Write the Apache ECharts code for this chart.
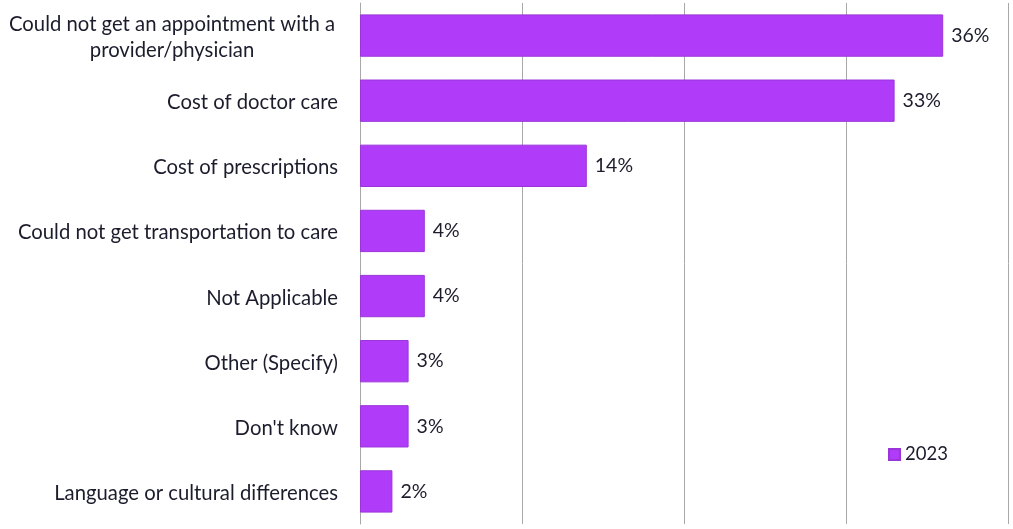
<!DOCTYPE html>
<html>
<head>
<meta charset="utf-8">
<script src="https://cdn.jsdelivr.net/npm/echarts@6/dist/echarts.min.js"></script>
<style>
  html, body { margin: 0; padding: 0; background: #fff; }
  #chart { width: 1013px; height: 529px; }
</style>
</head>
<body>
<div id="chart"></div>
<script>
// reasons, top to bottom
const categories = [
  'Could not get an appointment with a\nprovider/physician',
  'Cost of doctor care',
  'Cost of prescriptions',
  'Could not get transportation to care',
  'Not Applicable',
  'Other (Specify)',
  "Don't know",
  'Language or cultural differences'
];
const values2023 = [36, 33, 14, 4, 4, 3, 3, 2];
const seriesName = '2023';

const FONT = 'Lato, "Open Sans", sans-serif';
const TEXT = '#1c1c2c';

let chart = echarts.init(document.getElementById('chart'));

chart.setOption({
  animation: false,
  textStyle: { fontFamily: FONT },
  grid: { left: 360, right: 5, top: 3, bottom: 5, containLabel: false },
  legend: {
    data: [seriesName],
    left: 883, top: 440,
    itemWidth: 11, itemHeight: 11, itemGap: 7,
    icon: 'rect',
    textStyle: { fontSize: 18.5, color: TEXT, fontFamily: FONT }
  },
  xAxis: {
    type: 'value',
    min: 0, max: 40, interval: 10,
    axisLabel: { show: false },
    axisLine: { show: false },
    axisTick: { show: false },
    splitLine: { show: true, lineStyle: { color: '#a8a8a8', width: 1 } }
  },
  yAxis: {
    type: 'category',
    inverse: true,
    data: categories,
    axisLine: { show: true, lineStyle: { color: '#a8a8a8', width: 1 } },
    axisTick: { show: false },
    axisLabel: {
      margin: 22,
      fontSize: 20.3,
      color: TEXT,
      fontFamily: FONT,
      lineHeight: 26,
      padding: [4, 0, 0, 0],
      formatter: function (v, i) {
        return i === 0 ? '{c|' + v.replace('\n', '}\n{c|') + '}' : v;
      },
      rich: {
        c: { width: 332, align: 'center', fontSize: 20.3, color: TEXT, fontFamily: FONT, lineHeight: 26 }
      }
    }
  },
  series: [{
    name: seriesName,
    type: 'bar',
    data: values2023,
    barCategoryGap: '35%',
    itemStyle: { color: '#b03cfa', borderColor: '#9a35d8', borderWidth: 1 },
    label: {
      show: true,
      position: 'right',
      distance: 8,
      formatter: '{c}%',
      fontSize: 19.5,
      color: TEXT,
      fontFamily: FONT,
      padding: [3, 0, 0, 0]
    }
  }]
});

window.onresize = function () {
  chart.resize();
};
</script>
</body>
</html>
